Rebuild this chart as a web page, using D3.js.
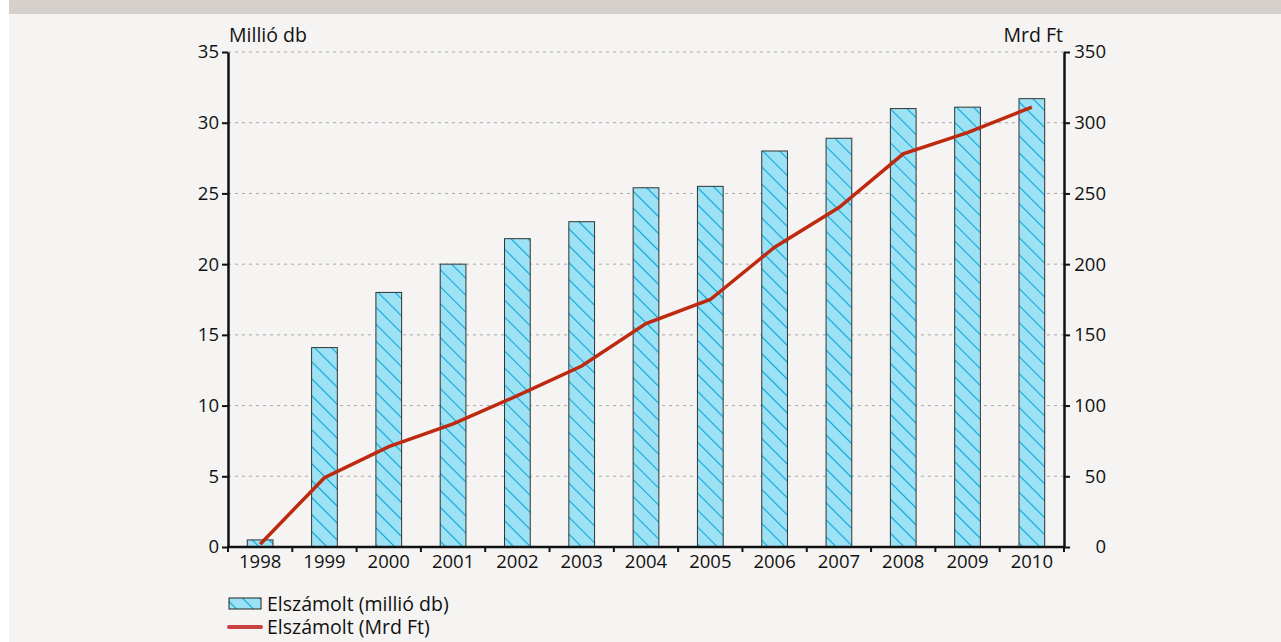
<!DOCTYPE html>
<html lang="hu">
<head>
<meta charset="UTF-8">
<title>Elszámolt</title>
<script src="https://cdnjs.cloudflare.com/ajax/libs/d3/7.8.5/d3.min.js"></script>
<style>
  body { margin: 0; background: #ffffff; }
  text { font-family: "Open Sans", sans-serif; fill: #111; }
</style>
</head>
<body>
<div id="chart"></div>
<script>
    var years = ["1998", "1999", "2000", "2001", "2002", "2003", "2004",
                 "2005", "2006", "2007", "2008", "2009", "2010"];
    // Elszámolt (millió db)
    var darab = [0.5, 14.1, 18.0, 20.0, 21.8, 23.0, 25.4, 25.5, 28.0, 28.9, 31.0, 31.1, 31.7];
    // Elszámolt (Mrd Ft)
    var ertek = [2, 49, 71, 87, 107, 128, 158, 175, 212, 240, 278, 293, 311];
    var leftTicks = [0, 5, 10, 15, 20, 25, 30, 35];
    var rightTicks = [0, 50, 100, 150, 200, 250, 300, 350];

    var width = 1281, height = 642;
    var pLeft = 228, pRight = 1064, pTop = 52, pBottom = 547;
    var fs = "18.5px", fsL = "19.5px";

    var svg = d3.select("#chart").append("svg")
        .attr("width", width)
        .attr("height", height);

    // background + header band
    svg.append("rect").attr("x", 9).attr("y", 0).attr("width", width - 9).attr("height", height)
        .attr("fill", "#f5f4f2");
    svg.append("rect").attr("x", 9).attr("y", 0).attr("width", width - 9).attr("height", 14)
        .attr("fill", "#d5d0cb");

    var defs = svg.append("defs");
    var pat = defs.append("pattern")
        .attr("id", "hatch")
        .attr("patternUnits", "userSpaceOnUse")
        .attr("width", 12).attr("height", 12)
        .attr("patternTransform", "rotate(-45)");
    pat.append("rect").attr("width", 12).attr("height", 12).attr("fill", "#9ce2f4");
    pat.append("line").attr("x1", 0).attr("y1", 0).attr("x2", 0).attr("y2", 12)
        .attr("stroke", "#0aa6d8").attr("stroke-width", 2.2);

    var x = d3.scaleBand().domain(years).range([pLeft, pRight]).paddingInner(0.6).paddingOuter(0.3);
    var xb = d3.scaleBand().domain(years).range([pLeft, pRight]);
    var yL = d3.scaleLinear().domain([0, 35]).range([pBottom, pTop]);
    var yR = d3.scaleLinear().domain([0, 350]).range([pBottom, pTop]);

    // grid
    svg.append("g").selectAll("line")
        .data(leftTicks.filter(function(d) { return d > 0; }))
        .enter().append("line")
        .attr("x1", pLeft).attr("x2", pRight)
        .attr("y1", function(d) { return yL(d); })
        .attr("y2", function(d) { return yL(d); })
        .attr("stroke", "#a8a8a8")
        .attr("stroke-dasharray", "3,4");

    // bars
    svg.append("g").selectAll("rect")
        .data(darab)
        .enter().append("rect")
        .attr("x", function(d, i) { return x(years[i]); })
        .attr("width", x.bandwidth())
        .attr("y", function(d) { return yL(d); })
        .attr("height", function(d) { return yL(0) - yL(d); })
        .attr("fill", "url(#hatch)")
        .attr("stroke", "#333")
        .attr("stroke-width", 1);

    // line
    var line = d3.line()
        .x(function(d, i) { return xb(years[i]) + xb.bandwidth() / 2; })
        .y(function(d) { return yR(d); });
    svg.append("path")
        .datum(ertek)
        .attr("d", line)
        .attr("fill", "none")
        .attr("stroke", "#be2a10")
        .attr("stroke-width", 3.5);

    // axes
    var axL = svg.append("g").attr("transform", "translate(" + pLeft + ",0)")
        .call(d3.axisLeft(yL).tickValues(leftTicks).tickSize(6).tickSizeOuter(0).tickPadding(3));
    var axR = svg.append("g").attr("transform", "translate(" + pRight + ",0)")
        .call(d3.axisRight(yR).tickValues(rightTicks).tickSize(6).tickSizeOuter(0).tickPadding(3));
    axR.selectAll("text").attr("text-anchor", "end").attr("dx", "33");
    var axB = svg.append("g").attr("transform", "translate(0," + pBottom + ")")
        .call(d3.axisBottom(xb).tickSize(0).tickPadding(8));
    axB.select(".domain").remove();
    svg.append("g").selectAll("line")
        .data(d3.range(years.length + 1))
        .enter().append("line")
        .attr("x1", function(i) { return pLeft + i * xb.step(); })
        .attr("x2", function(i) { return pLeft + i * xb.step(); })
        .attr("y1", pBottom).attr("y2", pBottom + 5)
        .attr("stroke", "#111").attr("stroke-width", 2);
    svg.append("line").attr("x1", pLeft - 1).attr("x2", pRight + 1)
        .attr("y1", pBottom).attr("y2", pBottom)
        .attr("stroke", "#111").attr("stroke-width", 2.5);

    [axL, axR, axB].forEach(function(a) {
        a.selectAll(".domain").attr("stroke", "#111").attr("stroke-width", 2.5);
        a.selectAll(".tick line").attr("stroke", "#111").attr("stroke-width", 2);
        a.selectAll("text").style("font-size", fs).attr("fill", "#111")
            .style("font-family", "'Open Sans', sans-serif");
    });

    svg.append("text").attr("x", pLeft + 1).attr("y", 42).style("font-size", fsL).text("Millió db");
    svg.append("text").attr("x", pRight - 1).attr("y", 42).attr("text-anchor", "end")
        .style("font-size", fsL).text("Mrd Ft");

    // legend
    var lg = svg.append("g");
    lg.append("rect").attr("x", 229).attr("y", 598).attr("width", 32).attr("height", 11)
        .attr("fill", "url(#hatch)").attr("stroke", "#222");
    lg.append("text").attr("x", 267).attr("y", 611).style("font-size", fsL)
        .text("Elszámolt (millió db)");
    lg.append("line").attr("x1", 229).attr("x2", 261).attr("y1", 627).attr("y2", 627)
        .attr("stroke", "#c94040").attr("stroke-width", 4).attr("stroke-linecap", "round");
    lg.append("text").attr("x", 267).attr("y", 634).style("font-size", fsL)
        .text("Elszámolt (Mrd Ft)");
</script>
</body>
</html>
